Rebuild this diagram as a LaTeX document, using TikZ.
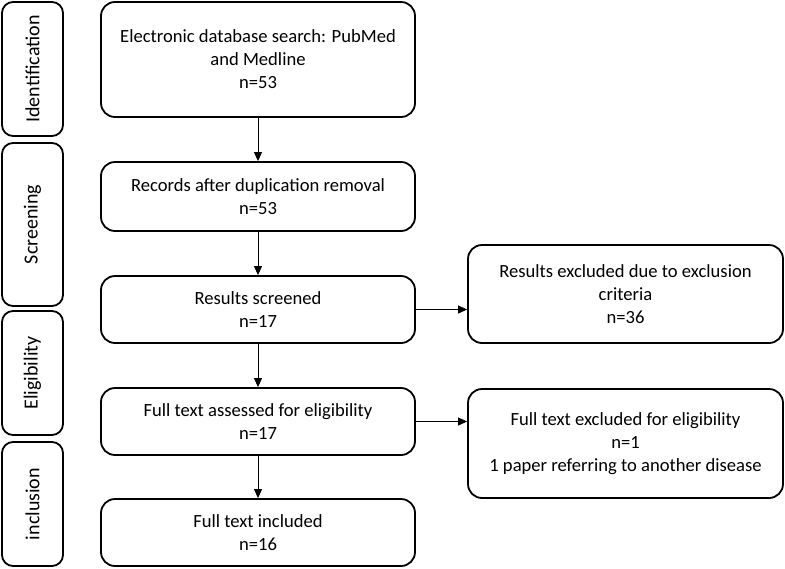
\documentclass[tikz,border=0pt]{standalone}
\usepackage{fontspec}
\setmainfont{Carlito}
\usetikzlibrary{arrows.meta}
\begin{document}
\begin{tikzpicture}[x=1pt,y=-1pt,
  box/.style={draw=black,line width=1.8pt,rounded corners=14pt,align=center,inner sep=0pt,
    font=\fontsize{18.6}{23}\selectfont,text=black},
  stagebox/.style={draw=black,line width=1.8pt,rounded corners=11pt,inner sep=0pt},
  stagelabel/.style={rotate=90,font=\fontsize{20}{22}\selectfont,text=black},
  arr/.style={line width=0.9pt,-{Triangle[length=9pt,width=8pt]}}]
\useasboundingbox (0,0) rectangle (785,568);
% stage boxes
\node[stagebox,minimum width=61pt,minimum height=134pt] (s1) at (32.5,69) {};
\node[stagebox,minimum width=61pt,minimum height=163pt] (s2) at (32.5,224.5) {};
\node[stagebox,minimum width=61pt,minimum height=124pt] (s3) at (32.5,373) {};
\node[stagebox,minimum width=61pt,minimum height=124pt] (s4) at (32.5,504) {};
\node[stagelabel] (l1) at (s1.center) {Identification};
\node[stagelabel] (l2) at (s2.center) {Screening};
\node[stagelabel] (l3) at (s3.center) {Eligibility};
\node[stagelabel] (l4) at (s4.center) {inclusion};
% main boxes
\node[box,minimum width=314pt,minimum height=115pt] (b1) at (258,59.5) {Electronic database search: PubMed\\and Medline\\n=53};
\node[box,minimum width=314pt,minimum height=69pt] (b2) at (258,196.5) {Records after duplication removal\\n=53};
\node[box,minimum width=314pt,minimum height=67pt] (b3) at (258,309.5) {Results screened\\n=17};
\node[box,minimum width=314pt,minimum height=67pt] (b4) at (258,421.5) {Full text assessed for eligibility\\n=17};
\node[box,minimum width=314pt,minimum height=67pt] (b5) at (258,532.5) {Full text included\\n=16};
% right boxes
\node[box,minimum width=315pt,minimum height=98pt] (r1) at (625.5,294) {Results excluded due to exclusion\\criteria\\n=36};
\node[box,minimum width=315pt,minimum height=109pt] (r2) at (625.5,443.5) {Full text excluded for eligibility\\n=1\\1 paper referring to another disease};
% connectors
\draw[arr] (b1) -- (b2);
\draw[arr] (b2) -- (b3);
\draw[arr] (b3) -- (b4);
\draw[arr] (b4) -- (b5);
\draw[arr] (b3.east) -- (b3.east -| r1.west);
\draw[arr] (b4.east) -- (b4.east -| r2.west);
\end{tikzpicture}
\end{document}
